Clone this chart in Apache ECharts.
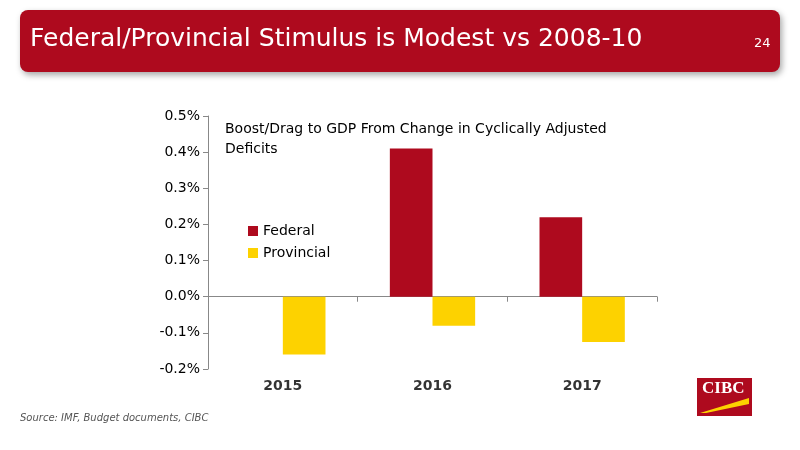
<!DOCTYPE html>
<html><head><meta charset="utf-8">
<script src="https://cdn.jsdelivr.net/npm/echarts@6/dist/echarts.min.js"></script>
<style>html,body{margin:0;padding:0;background:#fff}#c{width:800px;height:450px}</style>
</head><body><div id="c"></div>
<script>
const categories = ['2015', '2016', '2017'];
const federal = [0, 0.41, 0.22];
const provincial = [-0.16, -0.08, -0.125];
const yTicks = { min: -0.2, max: 0.5, interval: 0.1 };

const chart = echarts.init(document.getElementById('c'));
chart.setOption({
  animation: false,
  textStyle: { fontFamily: 'DejaVu Sans' },
  grid: { left: 208, right: 143, top: 116, bottom: 81 },
  title: { text: 'Boost/Drag to GDP From Change in Cyclically Adjusted\nDeficits', left: 220, top: 114,
    textStyle: { fontSize: 14, fontWeight: 500, color: '#000', lineHeight: 20, fontFamily: 'DejaVu Sans' } },
  legend: { orient: 'vertical', left: 243, top: 219, itemWidth: 10, itemHeight: 10, itemGap: 8, icon: 'rect',
    textStyle: { fontSize: 14, color: '#000' }, data: ['Federal', 'Provincial'] },
  xAxis: { type: 'category', data: categories,
    axisLine: { onZero: true, lineStyle: { color: '#888' } }, axisTick: { show: true, alignWithLabel: false, lineStyle: { color: '#888' } },
    axisLabel: { show: false } },
  yAxis: { type: 'value', min: yTicks.min, max: yTicks.max, interval: yTicks.interval,
    splitLine: { show: false }, axisLine: { show: true, lineStyle: { color: '#888' } }, axisTick: { show: true, lineStyle: { color: '#888' } },
    axisLabel: { color: '#000', fontSize: 14, formatter: v => v.toFixed(1) + '%' } },
  series: [
    { name: 'Federal', type: 'bar', data: federal, itemStyle: { color: '#AE0A1E' }, barGap: '0%', barCategoryGap: '43%' },
    { name: 'Provincial', type: 'bar', data: provincial, itemStyle: { color: '#FDD200' } },
    { name: 'lbl', type: 'scatter', data: categories.map(c => [c, -0.2]), symbolSize: 0, silent: true,
      label: { show: true, position: 'bottom', distance: 10, formatter: p => p.name, color: '#000', fontSize: 14, fontWeight: 'bold' } }
  ],
  graphic: [
    { type: 'rect', shape: { x: 20, y: 10, width: 760, height: 62, r: 8 },
      style: { fill: '#AE0A1E', shadowBlur: 6, shadowColor: 'rgba(0,0,0,0.35)', shadowOffsetX: 2, shadowOffsetY: 3 } },
    { type: 'text', left: 30, top: 27, style: { text: 'Federal/Provincial Stimulus is Modest vs 2008-10', fill: '#fff', font: '25px "DejaVu Sans"' } },
    { type: 'text', left: 754, top: 37, style: { text: '24', fill: '#fff', font: '13px "DejaVu Sans"' } },
    { type: 'text', left: 20, top: 413, style: { text: 'Source: IMF, Budget documents, CIBC', fill: '#555', font: 'italic 10px "DejaVu Sans"' } },
    { type: 'rect', shape: { x: 697, y: 378, width: 55, height: 38 }, style: { fill: '#AE0A1E' } },
    { type: 'text', left: 702, top: 380, style: { text: 'CIBC', fill: '#fff', font: 'bold 17px "Liberation Serif"' } },
    { type: 'polygon', shape: { points: [[700,413],[749,398],[749,404],[706,413]] }, style: { fill: '#FDD200' } }
  ]
});
</script></body></html>
